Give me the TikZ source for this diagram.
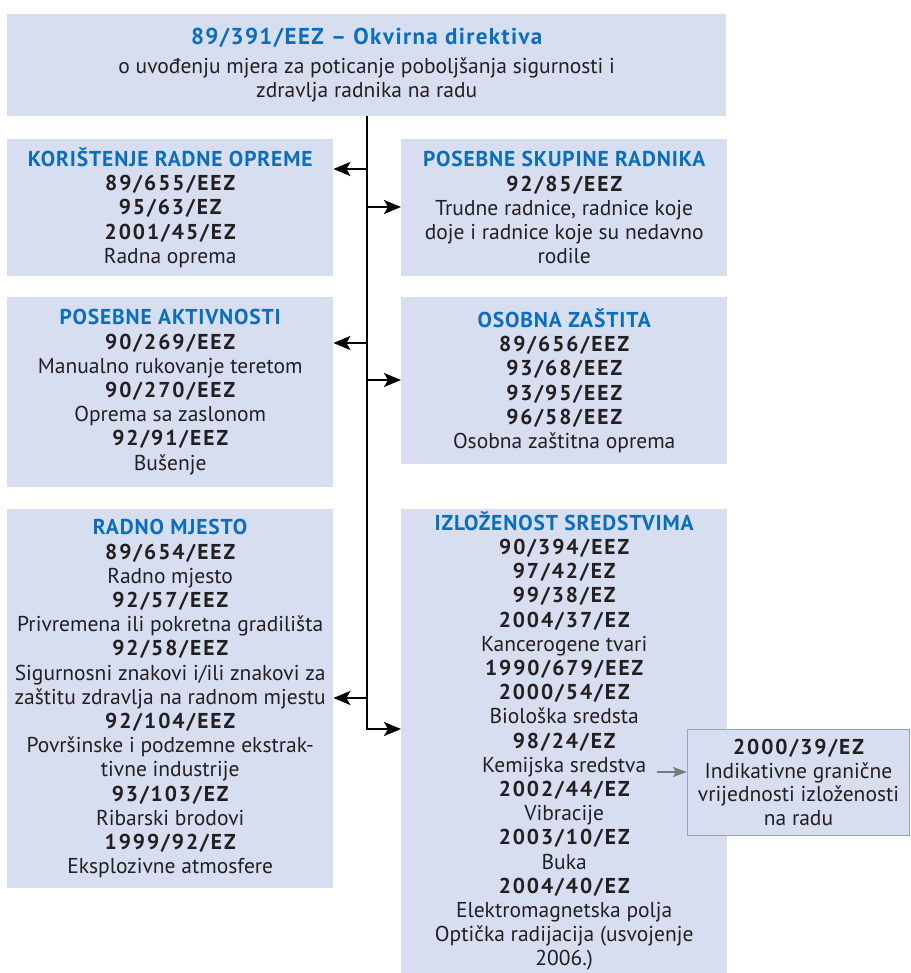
\documentclass[tikz,border=0pt]{standalone}
\usepackage{fontspec}
\setmainfont{PT Sans}
\newfontfamily\codefont{PT Sans}[LetterSpace=9]
\newfontfamily\headfont{PT Sans}[LetterSpace=4]
\newfontfamily\toptitlefont{PT Sans}[LetterSpace=6]
\usetikzlibrary{positioning,arrows.meta}
\definecolor{boxfill}{HTML}{D7DEF0}
\definecolor{ttlblue}{HTML}{0A6EBD}
\definecolor{txt}{HTML}{231F20}
\definecolor{frame}{HTML}{8EA3D3}
\definecolor{graylink}{HTML}{7A7A7A}
\newcommand{\hd}[1]{\textcolor{ttlblue}{\headfont\bfseries #1}}
\newcommand{\cd}[1]{{\codefont\bfseries #1}}

\begin{document}
\begin{tikzpicture}[x=1pt,y=-1pt,
    box/.style={fill=boxfill, text=txt, align=center, inner sep=0pt,
      minimum width=326pt, anchor=north west,
      font=\fontsize{21.5}{24.2}\selectfont},
    link/.style={line width=2.2pt, -{Stealth[length=17pt,width=14pt,inset=4pt]}},
    sidelink/.style={line width=1.6pt, graylink, -{Stealth[length=14pt,width=10pt,inset=3pt]}}]
    \useasboundingbox (0,0) rectangle (910,973);
    % Framework directive
    \node[box, minimum width=719pt, minimum height=102pt] (okvir) at (7,14)
      {\textcolor{ttlblue}{\toptitlefont\bfseries\fontsize{23}{26}\selectfont
         89/391/EEZ – Okvirna direktiva}\\[5pt]
       o uvođenju mjera za poticanje poboljšanja sigurnosti i\\
       zdravlja radnika na radu};
    % Left column
    \node[box, minimum height=137pt] (oprema) at (7,139)
      {\hd{KORIŠTENJE RADNE OPREME}\\ \cd{89/655/EEZ}\\ \cd{95/63/EZ}\\
       \cd{2001/45/EZ}\\ Radna oprema};
    \node[box, minimum height=190pt] (aktivnosti) at (7,297)
      {\hd{POSEBNE AKTIVNOSTI}\\ \cd{90/269/EEZ}\\ Manualno rukovanje teretom\\
       \cd{90/270/EEZ}\\ Oprema sa zaslonom\\ \cd{92/91/EEZ}\\ Bušenje};
    \node[box, minimum height=379pt] (mjesto) at (7,509)
      {\hd{RADNO MJESTO}\\ \cd{89/654/EEZ}\\ Radno mjesto\\ \cd{92/57/EEZ}\\
       Privremena ili pokretna gradilišta\\ \cd{92/58/EEZ}\\
       Sigurnosni znakovi i/ili znakovi za\\ zaštitu zdravlja na radnom mjestu\\
       \cd{92/104/EEZ}\\ Površinske i podzemne ekstrak-\\ tivne industrije\\
       \cd{93/103/EZ}\\ Ribarski brodovi\\ \cd{1999/92/EZ}\\ Eksplozivne atmosfere};
    % Right column
    \node[box, minimum height=137pt] (skupine) at (401,139)
      {\hd{POSEBNE SKUPINE RADNIKA}\\ \cd{92/85/EEZ}\\ Trudne radnice, radnice koje\\
       doje i radnice koje su nedavno\\ rodile};
    \node[box, minimum height=167pt] (zastita) at (401,297)
      {\hd{OSOBNA ZAŠTITA}\\ \cd{89/656/EEZ}\\ \cd{93/68/EEZ}\\ \cd{93/95/EEZ}\\
       \cd{96/58/EEZ}\\ Osobna zaštitna oprema};
    \node[box, minimum height=464pt] (sredstva) at (401,509)
      {\hd{IZLOŽENOST SREDSTVIMA}\\ \cd{90/394/EEZ}\\ \cd{97/42/EZ}\\ \cd{99/38/EZ}\\
       \cd{2004/37/EZ}\\ Kancerogene tvari\\ \cd{1990/679/EEZ}\\ \cd{2000/54/EZ}\\
       Biološka sredsta\\ \cd{98/24/EZ}\\ Kemijska sredstva\\ \cd{2002/44/EZ}\\
       Vibracije\\ \cd{2003/10/EZ}\\ Buka\\ \cd{2004/40/EZ}\\ Elektromagnetska polja\\
       Optička radijacija (usvojenje\\ 2006.)};
    % Limit values
    \node[box, draw=frame, line width=1pt, minimum width=222pt, minimum height=106pt,
      font=\fontsize{21.5}{23.8}\selectfont] (granicne) at (687,729)
      {\cd{2000/39/EZ}\\ Indikativne granične\\ vrijednosti izloženosti\\ na radu};
    % Trunk and branches
    \coordinate (a1) at (367,169);
    \coordinate (a2) at (367,207);
    \coordinate (a3) at (367,343);
    \coordinate (a4) at (367,380);
    \coordinate (a5) at (367,698);
    \coordinate (a6) at (367,729);
    \draw[link] (okvir.south -| a6) -- (a6) -- (a6 -| sredstva.west);
    \draw[link] (a1) -- (a1 -| oprema.east);
    \draw[link] (a2) -- (a2 -| skupine.west);
    \draw[link] (a3) -- (a3 -| aktivnosti.east);
    \draw[link] (a4) -- (a4 -| zastita.west);
    \draw[link] (a5) -- (a5 -| mjesto.east);
    \coordinate (kem) at (657,772);
    \draw[sidelink] (kem) -- (kem -| granicne.west);
\end{tikzpicture}
\end{document}
